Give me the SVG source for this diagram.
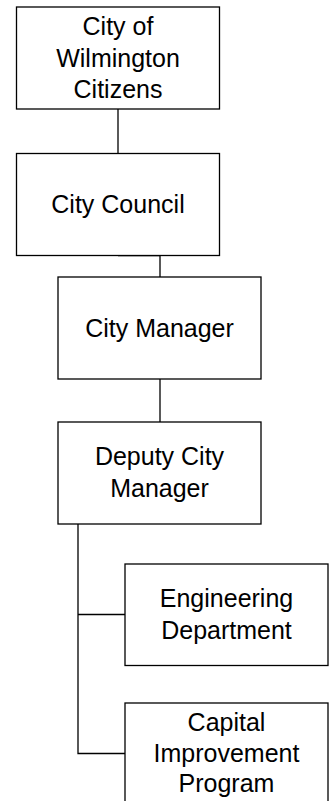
<svg xmlns="http://www.w3.org/2000/svg" width="329" height="801" viewBox="0 0 329 801">
<style>
.box{fill:#fff;stroke:#000;stroke-width:1.3}
.ln{fill:none;stroke:#000;stroke-width:1.3}
text{font-family:"Liberation Sans",Arial,sans-serif;font-size:25px;fill:#000;text-anchor:middle}
</style>
<rect width="329" height="801" fill="#fff"/>
<g id="connectors">
<line class="ln" x1="118" y1="109" x2="118" y2="153"/>
<polyline class="ln" points="118,255.5 160,255.5 160,277"/>
<line class="ln" x1="160" y1="379" x2="160" y2="422"/>
<polyline class="ln" points="78,524 78,753.5 125,753.5"/>
<line class="ln" x1="78" y1="614.5" x2="125" y2="614.5"/>
</g>
<g id="citizens">
<rect class="box" x="16.5" y="7" width="203" height="102"/>
<text x="118" y="34.5">City of</text>
<text x="118" y="66.5">Wilmington</text>
<text x="118" y="97.5">Citizens</text>
</g>
<g id="council">
<rect class="box" x="16.5" y="153.5" width="203" height="102"/>
<text x="118" y="213">City Council</text>
</g>
<g id="manager">
<rect class="box" x="58" y="277" width="203" height="102"/>
<text x="159.5" y="337">City Manager</text>
</g>
<g id="deputy">
<rect class="box" x="58" y="422" width="203" height="102"/>
<text x="159.5" y="465">Deputy City</text>
<text x="159.5" y="497">Manager</text>
</g>
<g id="engineering">
<rect class="box" x="125" y="564" width="203" height="101.5"/>
<text x="226.5" y="607">Engineering</text>
<text x="226.5" y="638.5">Department</text>
</g>
<g id="cip">
<rect class="box" x="125" y="703" width="203" height="110"/>
<text x="226.5" y="730.5">Capital</text>
<text x="226.5" y="761.5">Improvement</text>
<text x="226.5" y="792">Program</text>
</g>
</svg>
